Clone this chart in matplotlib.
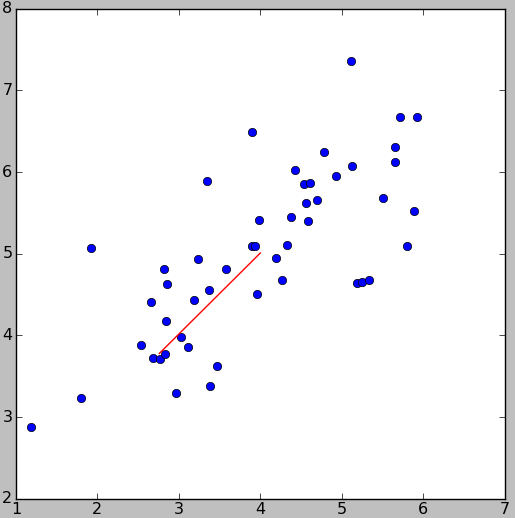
import numpy as np
import matplotlib
matplotlib.use("Agg")
import matplotlib.pyplot as plt

# scatter points
xs = [1.18, 1.80, 1.92, 2.54, 2.68, 2.77, 2.835, 2.66, 2.82, 2.86,
      2.84, 2.97, 3.03, 3.11, 3.19, 3.23, 3.375, 3.38, 3.47, 3.58,
      3.955, 3.34, 3.896, 3.90, 3.94, 3.98, 5.118, 5.715, 5.924, 5.65,
      5.65, 4.787, 5.13, 4.42, 4.53, 4.615, 4.93, 4.69, 4.566, 5.50,
      5.89, 4.38, 4.58, 4.325, 5.805, 4.19, 4.27, 5.19, 5.25, 5.34]
ys = [2.88, 3.24, 5.07, 3.88, 3.72, 3.71, 3.77, 4.41, 4.82, 4.63,
      4.18, 3.29, 3.98, 3.86, 4.43, 4.94, 4.56, 3.38, 3.63, 4.81,
      4.51, 5.89, 6.49, 5.10, 5.09, 5.41, 7.36, 6.68, 6.68, 6.31,
      6.12, 6.25, 6.08, 6.03, 5.85, 5.87, 5.95, 5.66, 5.62, 5.68,
      5.52, 5.45, 5.40, 5.11, 5.10, 4.95, 4.68, 4.64, 4.66, 4.68]

# red line endpoints
line_x = [2.76, 4.0]
line_y = [3.78, 5.01]

plt.style.use("classic")
fig = plt.figure(figsize=(5.15, 5.18), dpi=100)
ax = fig.add_axes([0.031, 0.037, 0.949, 0.946])
ax.plot(xs, ys, "bo", markersize=6)
ax.plot(line_x, line_y, "r-", lw=1)
ax.set_xlim(1, 7)
ax.set_ylim(2, 8)
ax.tick_params(axis="both", pad=2.5, labelsize=11.5)
fig.savefig("out.png", dpi=100, facecolor=fig.get_facecolor())
